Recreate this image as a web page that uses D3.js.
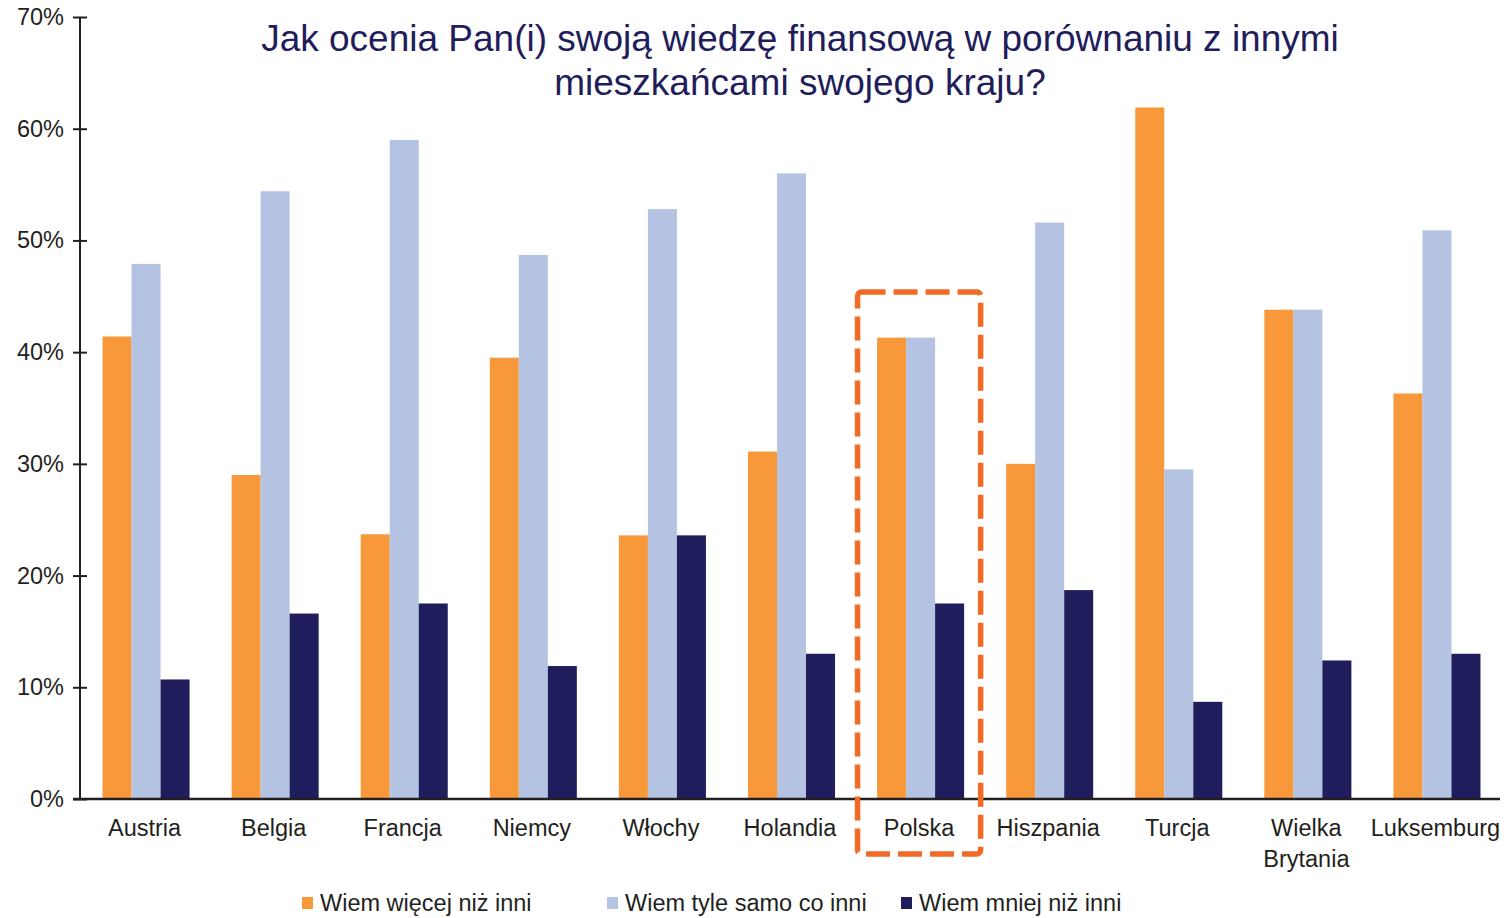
<!DOCTYPE html>
<html>
<head>
<meta charset="utf-8">
<script src="https://cdn.jsdelivr.net/npm/d3@7"></script>
<style>
  body { margin: 0; background: #fff; }
  text { font-family: "Liberation Sans", Arial, sans-serif; }
</style>
</head>
<body>
<div id="plotSect"></div>
<script>
// data //
let countries = ["Austria", "Belgia", "Francja", "Niemcy", "Włochy", "Holandia",
    "Polska", "Hiszpania", "Turcja", "Wielka Brytania", "Luksemburg"];
let seriesNames = ["Wiem więcej niż inni", "Wiem tyle samo co inni", "Wiem mniej niż inni"];
let more = [41.4, 29.0, 23.7, 39.5, 23.6, 31.1, 41.3, 30.0, 61.9, 43.8, 36.3];
let same = [47.9, 54.4, 59.0, 48.7, 52.8, 56.0, 41.3, 51.6, 29.5, 43.8, 50.9];
let less = [10.7, 16.6, 17.5, 11.9, 23.6, 13.0, 17.5, 18.7, 8.7, 12.4, 13.0];
let yTicks = [0, 10, 20, 30, 40, 50, 60, 70];
let highlighted = "Polska";

// chart setup //
let SVGwidth = 1510,
    SVGheight = 918,
    margin = {top: 17, right: 10, bottom: 119, left: 80},
    width = SVGwidth - margin.left - margin.right,
    height = SVGheight - margin.top - margin.bottom;

let colors = ["#f7993a", "#b4c3e2", "#1f1d5c"];
let textColor = "#231f20";

let svg = d3.select("#plotSect").append("svg")
    .attr("width", SVGwidth)
    .attr("height", SVGheight)
    .append("g")
    .attr("transform", "translate(" + margin.left + "," + margin.top + ")");

let data = countries.map(function(c, i) {
    return {country: c, values: [more[i], same[i], less[i]]};
});

let x0 = d3.scaleBand().domain(countries).range([0, width]).padding(0);
let x1 = d3.scaleBand().domain([0, 1, 2]).range([0, x0.bandwidth()])
    .paddingInner(0).paddingOuter(0.725);
let yScale = d3.scaleLinear().domain([0, 70]).range([height, 0]);

// bars
let groups = svg.selectAll(".group")
    .data(data)
    .enter().append("g")
    .attr("class", "group")
    .attr("transform", function(d) { return "translate(" + (x0(d.country) + 1.5) + ",0)"; });

groups.selectAll("rect")
    .data(function(d) { return d.values.map(function(v, i) { return {i: i, v: v}; }); })
    .enter().append("rect")
    .attr("x", function(d) { return x1(d.i); })
    .attr("width", x1.bandwidth())
    .attr("y", function(d) { return yScale(d.v); })
    .attr("height", function(d) { return height - yScale(d.v); })
    .style("fill", function(d) { return colors[d.i]; });

// y axis
let yAxis = d3.axisLeft(yScale)
    .tickValues(yTicks)
    .tickSize(0)
    .tickFormat(function(d) { return d + "%"; });

let yG = svg.append("g").call(yAxis);
yG.select(".domain").remove();
yG.selectAll("text")
    .attr("x", -16)
    .style("font-size", "23.5px")
    .style("font-family", "'Liberation Sans', Arial, sans-serif")
    .style("fill", textColor);
yG.selectAll(".tick").append("line")
    .attr("x1", -7).attr("x2", 7)
    .attr("stroke", textColor).attr("stroke-width", 2);

svg.append("line")
    .attr("x1", 0).attr("x2", 0)
    .attr("y1", 0).attr("y2", height)
    .attr("stroke", textColor).attr("stroke-width", 2);

// x axis
svg.append("line")
    .attr("x1", -7).attr("x2", width)
    .attr("y1", height).attr("y2", height)
    .attr("stroke", textColor).attr("stroke-width", 2.5);

let xLabels = svg.selectAll(".xLabel")
    .data(countries)
    .enter().append("text")
    .attr("class", "xLabel")
    .attr("x", function(d) { return x0(d) + x0.bandwidth() / 2; })
    .attr("y", height + 37)
    .style("text-anchor", "middle")
    .style("font-size", "23.5px")
    .style("fill", textColor);

xLabels.each(function(d) {
    let words = d === "Wielka Brytania" ? ["Wielka", "Brytania"] : [d];
    let t = d3.select(this);
    words.forEach(function(w, i) {
        t.append("tspan")
            .attr("x", x0(d) + x0.bandwidth() / 2)
            .attr("dy", i === 0 ? 0 : 31)
            .text(w);
    });
});

// highlight box
svg.append("rect")
    .attr("x", x0(highlighted) + 3)
    .attr("y", 275)
    .attr("width", x0.bandwidth() - 6)
    .attr("height", 562)
    .attr("rx", 4)
    .attr("fill", "none")
    .attr("stroke", "#f26b26")
    .attr("stroke-width", 5.5)
    .attr("stroke-dasharray", "24,8");

// title
let title = svg.append("text")
    .attr("x", 720)
    .attr("y", 34)
    .style("text-anchor", "middle")
    .style("font-size", "37px")
    .style("fill", "#1f1d5c");
title.append("tspan").attr("x", 720).attr("dy", 0)
    .text("Jak ocenia Pan(i) swoją wiedzę finansową w porównaniu z innymi");
title.append("tspan").attr("x", 720).attr("dy", 44)
    .text("mieszkańcami swojego kraju?");

// legend
let legendX = [222, 527, 821];
let legend = svg.selectAll(".legend")
    .data(seriesNames)
    .enter().append("g")
    .attr("class", "legend")
    .attr("transform", function(d, i) { return "translate(" + legendX[i] + "," + (height + 98) + ")"; });

legend.append("rect")
    .attr("width", 11)
    .attr("height", 12)
    .style("fill", function(d, i) { return colors[i]; });

legend.append("text")
    .attr("x", 18)
    .attr("y", 14)
    .style("font-size", "23.5px")
    .style("fill", textColor)
    .text(function(d) { return d; });
</script>
</body>
</html>
